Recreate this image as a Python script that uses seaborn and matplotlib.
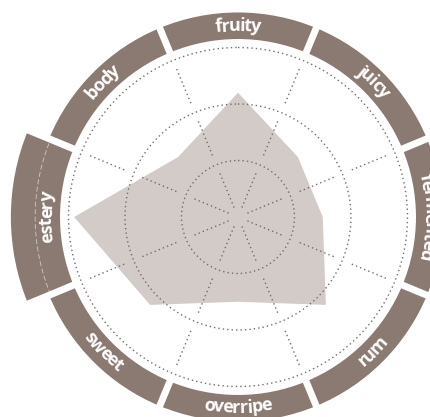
import numpy as np
import matplotlib
matplotlib.use("Agg")
import matplotlib.pyplot as plt
import seaborn as sns
from matplotlib.font_manager import FontProperties

# flavour profile, clockwise from the top
categories = ['fruity', 'juicy', 'fermented', 'rum', 'overripe', 'sweet', 'estery', 'body']
scores = [2.2, 1.5, 1.5, 2.2, 1.5, 2.2, 2.9, 1.5]
ring_levels = [1, 2, 3]
highlight = 'estery'

band_color = '#8a7a71'
fill_color = '#d3cbc7'
dot_color = '#776b68'

sns.set_theme(style='white')
plt.rcParams['font.family'] = ['Open Sans', 'DejaVu Sans']

W, H = 430, 417
cx, cy = 238, 217          # centre of the wheel in pixels (from top-left)
unit = 56.5                # pixels per ring level
rmax = 4.1
R = rmax * unit

fig = plt.figure(figsize=(W / 100, H / 100), dpi=100)
ax = fig.add_axes([(cx - R) / W, (H - cy - R) / H, 2 * R / W, 2 * R / H], projection='polar')
ax.set_theta_zero_location('N')
ax.set_theta_direction(-1)
ax.set_ylim(0, rmax)
ax.axis('off')

n = len(categories)
theta = np.linspace(0, 2 * np.pi, n, endpoint=False)
step = 2 * np.pi / n
bounds = theta + step / 2

# the profile
ax.fill(np.append(theta, theta[0]), np.append(scores, scores[0]), color=fill_color, lw=0, zorder=1)

# dotted rings
circ = np.linspace(0, 2 * np.pi, 500)
for lv in ring_levels:
    ax.plot(circ, np.full_like(circ, lv), color=dot_color, lw=1.0, ls=(0, (1, 2.2)), zorder=2)

# dotted spokes, broken at every ring
for b in bounds:
    for lv in [0] + ring_levels[:-1]:
        ax.plot([b, b], [lv + 0.18, lv + 0.84], color=dot_color, lw=1.0, ls=(0, (1, 2.2)), zorder=2)

# outer band segments
r_in, r_out, r_hi = 3.15, 3.62, 4.02
for th, cat in zip(theta, categories):
    top = r_hi if cat == highlight else r_out
    ax.bar(th, top - r_in, width=step, bottom=r_in, color=band_color, lw=0, zorder=3)
    if cat == highlight:
        arc = np.linspace(th - step / 2, th + step / 2, 60)
        ax.plot(arc, np.full_like(arc, r_out - 0.03), color='white', lw=0.6, alpha=0.6,
                ls=(0, (6, 3)), zorder=4)
for b in bounds:
    ax.plot([b, b], [3.07, rmax], color='white', lw=5, solid_capstyle='butt', zorder=4)

# curved labels (letters packed a little tighter than the font's own spacing)
prop = FontProperties(family='Open Sans', weight='bold', size=13)
renderer = fig.canvas.get_renderer()
r_txt = 3.38
xh = 0.085
squeeze = 0.9


def text_width(s):
    if not s:
        return 0.0
    return renderer.get_text_width_height_descent(s, prop, ismath=False)[0]


for th, cat in zip(theta, categories):
    deg = np.degrees(th)
    bottom_side = 100 < deg < 260
    widths = [text_width(cat[:i]) for i in range(len(cat) + 1)]
    total = widths[-1]
    for i, ch in enumerate(cat):
        s = ((widths[i] + widths[i + 1]) / 2 - total / 2) * squeeze
        dth = s / (r_txt * unit)
        if bottom_side:
            t = th - dth
            rot = 180 - np.degrees(t)
            rr = r_txt + xh
        else:
            t = th + dth
            rot = -np.degrees(t)
            rr = r_txt - xh
        ax.text(t, rr, ch, fontproperties=prop, color='white', ha='center', va='baseline',
                rotation=rot, rotation_mode='anchor', zorder=5)

fig.savefig('out.png', dpi=100)
